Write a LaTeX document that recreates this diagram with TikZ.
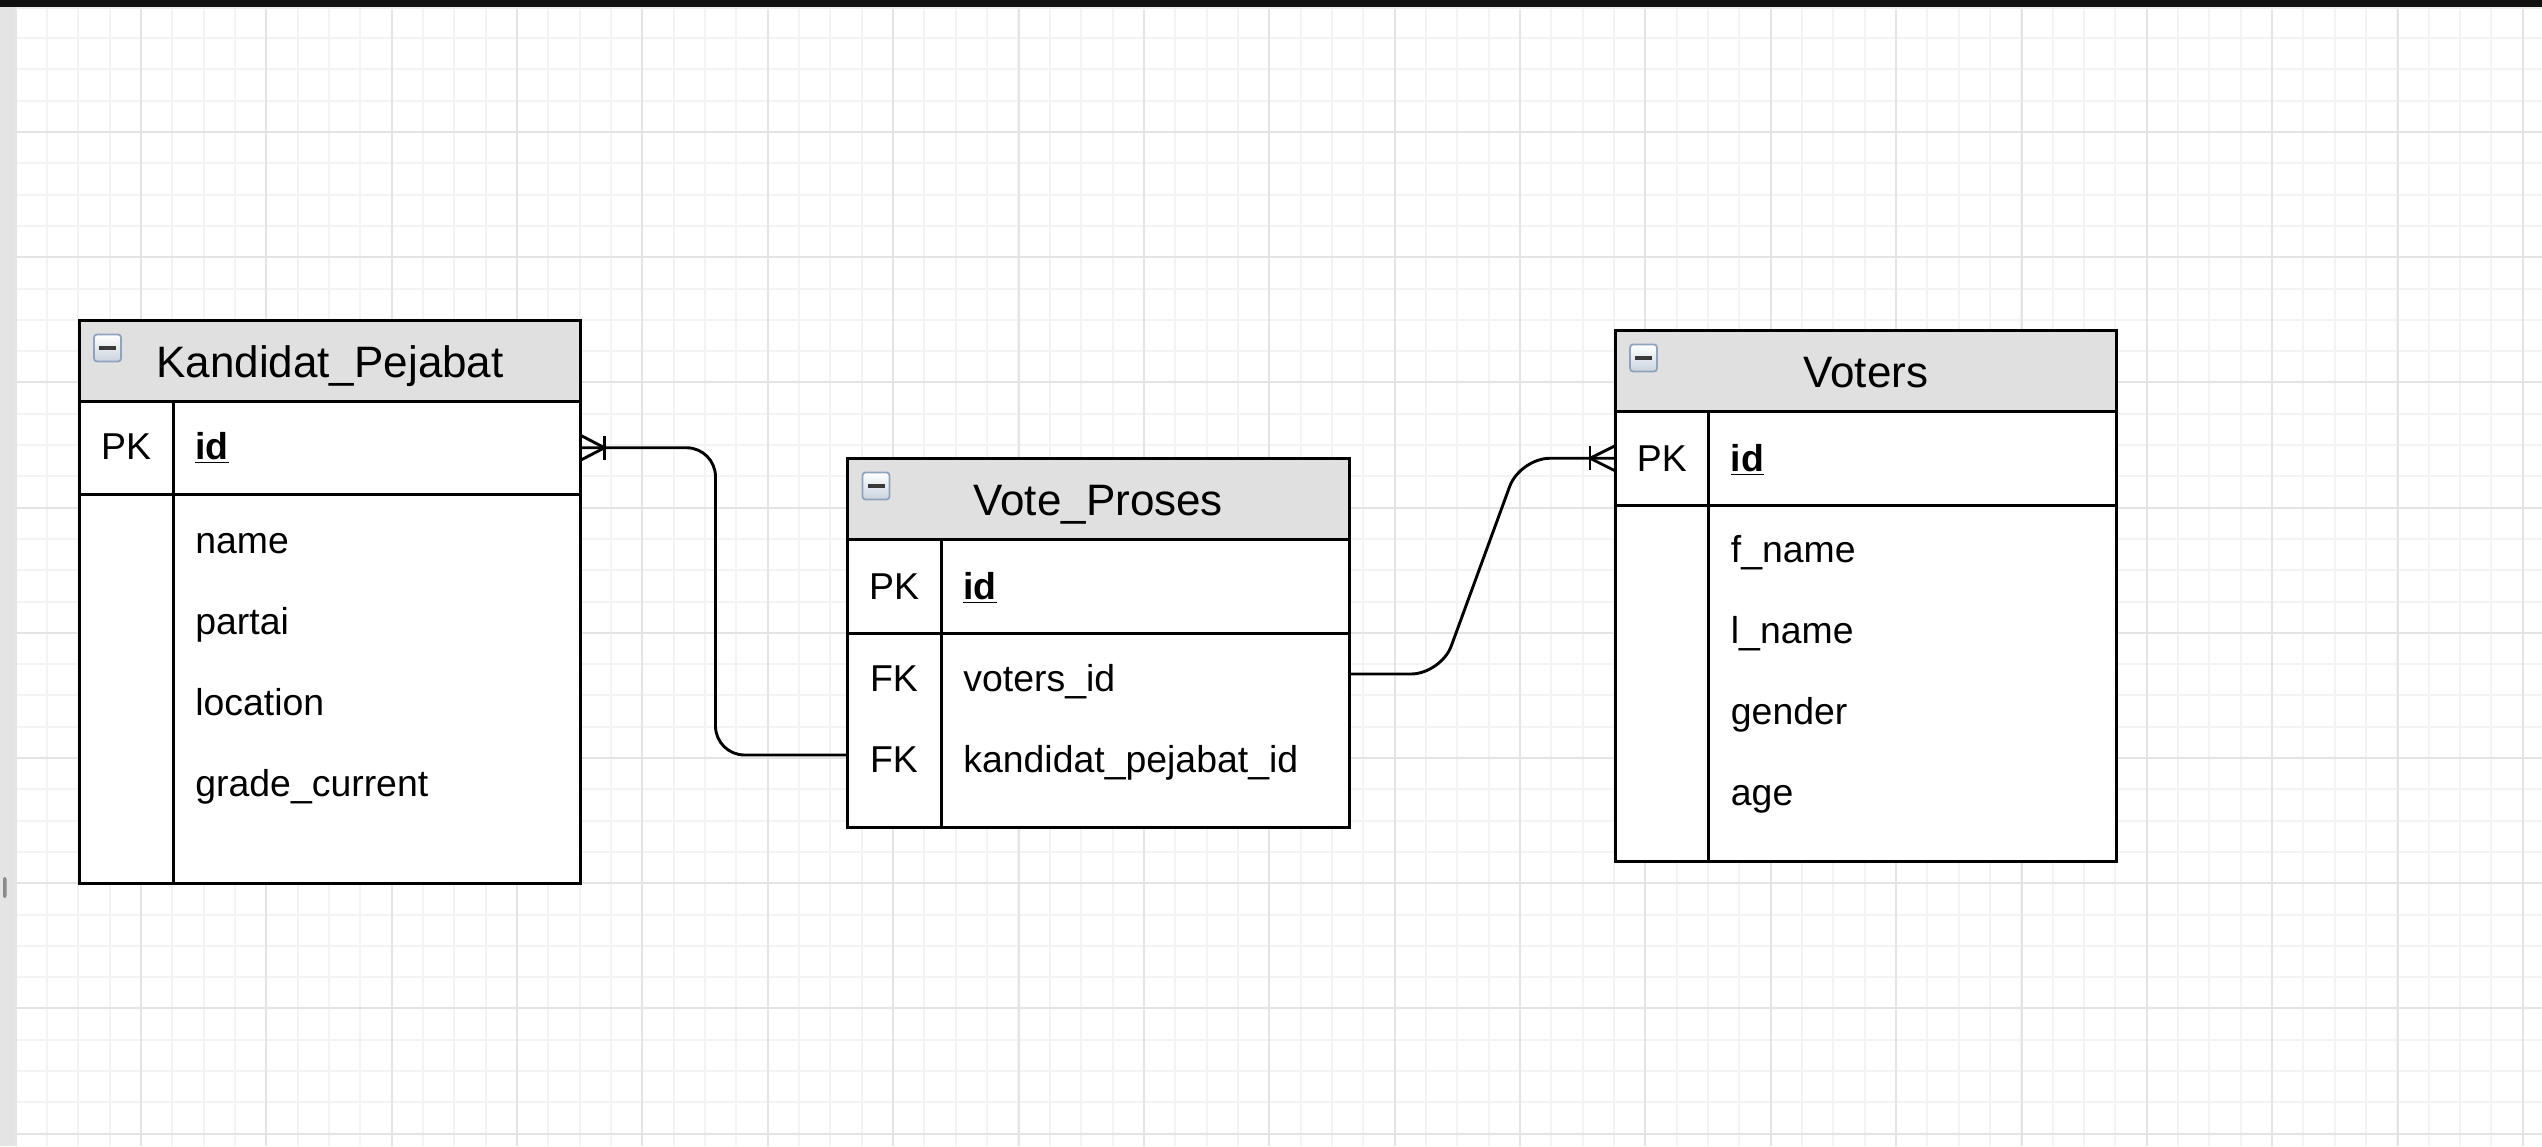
\documentclass[tikz,border=0pt]{standalone}
\usepackage{fontspec}
\setmainfont{Liberation Sans}
\definecolor{hdrfill}{HTML}{E0E0E0}
\definecolor{gridminor}{HTML}{F3F3F3}
\definecolor{gridmajor}{HTML}{E4E4E4}
\definecolor{gutter}{HTML}{E4E4E4}
\definecolor{topstrip}{HTML}{EEEEEE}
\definecolor{topbar}{HTML}{111111}
\definecolor{iconborder}{HTML}{8EA3BC}
\definecolor{iconlow}{HTML}{C9D3DE}
\definecolor{iconbar}{HTML}{3A3A3A}
\definecolor{scrollmark}{HTML}{8A8A8A}
\tikzset{erminus/.pic={
  \path[draw=iconborder, line width=0.9pt, top color=white, bottom color=iconlow, rounded corners=1.5pt] (0,0) rectangle (27,27);
  \draw[iconbar, line width=2.2pt] (5,13.5) -- (22,13.5);
}}
\begin{document}
\begin{tikzpicture}[x=0.5pt, y=-0.5pt,
  tline/.style={line width=1.5pt, draw=black},
  tblbox/.style={draw=black, line width=1.5pt, fill=white, inner sep=0pt, outer sep=0pt, anchor=north west, minimum width=250.75pt},
  hdrbox/.style={tblbox, fill=hdrfill},
  pkbox/.style={tblbox, fill=none},
  rowbox/.style={inner sep=0pt, outer sep=0pt, anchor=north west, minimum width=250.75pt, minimum height=40.5pt},
  ttl/.style={anchor=base, inner sep=0pt, font=\fontsize{22}{26}\selectfont},
  key/.style={anchor=base, inner sep=0pt, font=\fontsize{18.7}{22}\selectfont},
  attr/.style={anchor=base west, inner sep=0pt, font=\fontsize{18.7}{22}\selectfont},
  conn/.style={line width=1.45pt, draw=black},
]
\useasboundingbox (0,0) rectangle (2542,1146);
% background
\fill[topstrip] (0,0) rectangle (2542,1146);
\fill[white] (15.5,9) rectangle (2542,1146);
\fill[gutter] (0,6) rectangle (15.5,1146);
\fill[topbar] (0,0) rectangle (2542,6.5);
\fill[scrollmark, rounded corners=1pt] (3,877) rectangle (6.5,898);
% grid
\begin{scope}
\clip (15.5,9) rectangle (2542,1146);
\foreach \k in {0,...,80} {\pgfmathsetmacro\gx{15.6+31.34*\k} \draw[gridminor, line width=1pt] (\gx,9) -- (\gx,1146);}
\foreach \k in {0,...,36} {\pgfmathsetmacro\gy{6.8+31.3*\k} \draw[gridminor, line width=1pt] (15.5,\gy) -- (2542,\gy);}
\foreach \k in {0,...,20} {\pgfmathsetmacro\gx{15.6+125.37*\k} \draw[gridmajor, line width=1pt] (\gx,9) -- (\gx,1146);}
\foreach \k in {0,...,9} {\pgfmathsetmacro\gy{6.8+125.2*\k} \draw[gridmajor, line width=1pt] (15.5,\gy) -- (2542,\gy);}
\end{scope}

% ---------------- Kandidat_Pejabat
\node[tblbox, minimum height=281.5pt] (kp) at (79,320.5) {};
\node[hdrbox, minimum height=40.25pt] (kpH) at (79,320.5) {};
\node[pkbox, minimum height=46.75pt] (kpPK) at (79,401) {};
\draw[tline] (173,401) -- (173,883.5);
\pic (kpI) at (94,334.5) {erminus};
\node[ttl] (kpT) at (330,377) {Kandidat\_Pejabat};
\node[key] (kpK) at (126,459.5) {PK};
\node[attr] (kpId) at (195,459.5) {\textbf{\underline{id}}};
\node[attr] (kpA1) at (195,553) {name};
\node[attr] (kpA2) at (195,634) {partai};
\node[attr] (kpA3) at (195,715) {location};
\node[attr] (kpA4) at (195,796) {grade\_current};

% ---------------- Vote_Proses
\node[tblbox, minimum height=184.25pt] (vp) at (847.5,458.5) {};
\node[hdrbox, minimum height=40.5pt] (vpH) at (847.5,458.5) {};
\node[pkbox, minimum height=47pt] (vpPK) at (847.5,539.5) {};
\node[rowbox] (vpFK1) at (847.5,633.5) {};
\node[rowbox] (vpFK2) at (847.5,714.5) {};
\draw[tline] (941,539.5) -- (941,827);
\pic (vpI) at (862.5,472.5) {erminus};
\node[ttl] (vpT) at (1098.25,515.5) {Vote\_Proses};
\node[key] (vpK) at (894,599.5) {PK};
\node[attr] (vpId) at (963,599.5) {\textbf{\underline{id}}};
\node[key] (vpK1) at (894,691.5) {FK};
\node[attr] (vpA1) at (963,691.5) {voters\_id};
\node[key] (vpK2) at (894,772.5) {FK};
\node[attr] (vpA2) at (963,772.5) {kandidat\_pejabat\_id};

% ---------------- Voters
\node[tblbox, minimum height=265.25pt] (vt) at (1615,330.5) {};
\node[hdrbox, minimum height=40.5pt] (vtH) at (1615,330.5) {};
\node[pkbox, minimum height=46.75pt] (vtPK) at (1615,411.5) {};
\draw[tline] (1708.5,411.5) -- (1708.5,861);
\pic (vtI) at (1630,344.5) {erminus};
\node[ttl] (vtT) at (1865.75,387.5) {Voters};
\node[key] (vtK) at (1661.75,471) {PK};
\node[attr] (vtId) at (1730.5,471) {\textbf{\underline{id}}};
\node[attr] (vtA1) at (1730.5,562) {f\_name};
\node[attr] (vtA2) at (1730.5,643) {l\_name};
\node[attr] (vtA3) at (1730.5,724) {gender};
\node[attr] (vtA4) at (1730.5,805) {age};

% ---------------- connectors
\draw[conn, rounded corners=14.5pt] (kpPK.east) -- ++(67.5pt,0) |- (vpFK2.west);
\draw[conn] ([yshift=6.25pt]kpPK.east) -- ([xshift=12pt]kpPK.east) -- ([yshift=-6.25pt]kpPK.east);
\draw[conn] ([xshift=12pt,yshift=6pt]kpPK.east) -- ([xshift=12pt,yshift=-6pt]kpPK.east);

\draw[conn, rounded corners=15pt] (vpFK1.east) -- ++(46pt,0) -- ([xshift=-47.5pt]vtPK.west) -- (vtPK.west);
\draw[conn] ([yshift=6.25pt]vtPK.west) -- ([xshift=-12.5pt]vtPK.west) -- ([yshift=-6.25pt]vtPK.west);
\draw[conn] ([xshift=-12.5pt,yshift=6pt]vtPK.west) -- ([xshift=-12.5pt,yshift=-6pt]vtPK.west);
\end{tikzpicture}
\end{document}
